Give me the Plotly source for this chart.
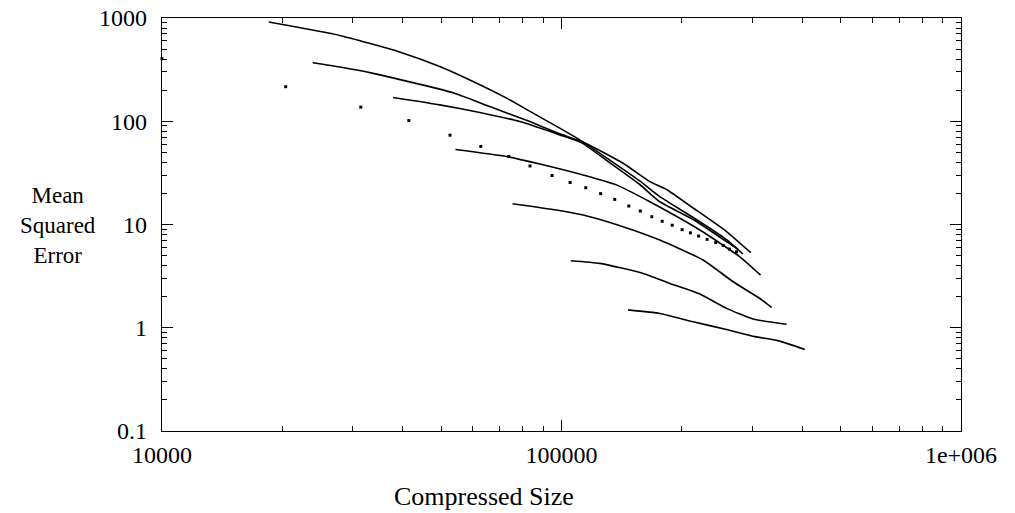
import plotly.graph_objects as go

# ---- data (Compressed Size vs Mean Squared Error) ----
a_x = [18500, 27860, 38980, 49580, 60050, 72840, 84900, 99000, 111100, 129600, 157000, 176200, 213600, 258800, 284400]
a_y = [914, 678, 474, 339, 242.7, 167.5, 119.8, 85.7, 66.0, 44.2, 26.4, 18.6, 11.7, 7.15, 5.18]

b_x = [23840, 27860, 33760, 40920, 53530, 66140, 81740, 99000, 114400, 142600, 166400, 183200, 213600, 258800, 297900]
b_y = [368.5, 334.7, 290.8, 244.8, 188.6, 138.6, 102.0, 75.5, 61.7, 39.2, 26.0, 21.85, 14.45, 8.55, 5.33]

c_x = [37870, 49580, 62440, 78640, 99000, 112400, 129600, 157000, 176200, 213600, 258800, 276300]
c_y = [169.8, 144.2, 121.5, 99.3, 73.8, 61.7, 41.8, 24.4, 16.6, 11.18, 6.84, 5.79]

d_x = [54280, 72840, 88240, 113300, 137300, 166400, 222000, 279500, 315000]
d_y = [53.2, 45.5, 38.6, 30.2, 24.2, 16.6, 8.84, 4.87, 3.24]

e_x = [75400, 97160, 117700, 142600, 176200, 226200, 268900, 313700, 335600]
e_y = [15.9, 13.8, 11.9, 9.52, 7.07, 4.53, 2.79, 1.92, 1.57]

f_x = [105500, 124700, 160100, 186700, 222000, 258800, 303000, 366000]
f_y = [4.46, 4.20, 3.36, 2.69, 2.12, 1.54, 1.21, 1.083]

g_x = [146800, 176200, 213600, 258800, 304800, 348000, 406600]
g_y = [1.49, 1.376, 1.141, 0.963, 0.820, 0.750, 0.617]

dot_x = [10000, 20400, 31450, 41480, 52600, 62800, 73800, 83400, 94700, 105100,
         115000, 125300, 135900, 147400, 157500, 168300, 178700, 189300, 200400,
         210200, 220400, 231500, 243300, 253900, 263400, 274200]
dot_y = [403, 216, 137, 101.6, 73.3, 57, 45.6, 36.9, 29.8, 25.5,
         22.7, 19.9, 17.5, 15.1, 13.5, 11.9, 10.75, 9.84, 8.91,
         8.30, 7.73, 7.18, 6.68, 6.28, 5.78, 5.44]

x_tickvals = [1e4, 1e5, 1e6]
x_ticktext = ["10000", "100000", "1e+006"]
y_tickvals = [0.1, 1, 10, 100, 1000]
y_ticktext = ["0.1", "1", "10", "100", "1000"]
x_minor = [m * 10 ** e for e in range(4, 6) for m in range(2, 10)]
y_minor = [m * 10.0 ** e for e in range(-1, 3) for m in range(2, 10)]

FONT = "Liberation Serif"

fig = go.Figure()
for xs, ys in [(a_x, a_y), (b_x, b_y), (c_x, c_y), (d_x, d_y), (e_x, e_y), (f_x, f_y), (g_x, g_y)]:
    fig.add_trace(go.Scatter(x=xs, y=ys, mode="lines",
                             line=dict(color="black", width=1.6, shape="spline", smoothing=0.5),
                             showlegend=False, hoverinfo="skip"))
fig.add_trace(go.Scatter(x=dot_x, y=dot_y, mode="markers",
                         marker=dict(symbol="square", size=3, color="black", line=dict(width=0)),
                         cliponaxis=False, showlegend=False, hoverinfo="skip"))

axis_common = dict(
    type="log", showgrid=False, zeroline=False,
    showline=True, linecolor="black", linewidth=1.3, mirror="allticks",
    ticks="inside", ticklen=11, tickwidth=1.2, tickcolor="black",
    tickmode="array", ticklabeloverflow="allow",
    tickfont=dict(family=FONT, size=24, color="black"),
    automargin=False,
)

# the page body adds an 8px offset; the figure is sized so the plot area lands
# at x 162..961, y 18..431 of the 1015x513 window
fig.update_layout(
    width=1007, height=505,
    margin=dict(l=154, r=54, t=10, b=82),
    paper_bgcolor="white", plot_bgcolor="white",
    font=dict(family=FONT, color="black"),
    xaxis=dict(axis_common, range=[4, 6], tickvals=x_tickvals, ticktext=x_ticktext,
               ticklabelstandoff=2,
               minor=dict(tickmode="array", tickvals=x_minor, ticks="inside", ticklen=5,
                          tickwidth=1, tickcolor="black", showgrid=False)),
    yaxis=dict(axis_common, range=[-1, 3], tickvals=y_tickvals, ticktext=y_ticktext,
               ticklabelstandoff=9,
               minor=dict(tickmode="array", tickvals=y_minor, ticks="inside", ticklen=5,
                          tickwidth=1, tickcolor="black", showgrid=False)),
    annotations=[
        dict(text="Compressed Size", xref="paper", yref="paper", x=0.4028, y=-0.158,
             xanchor="center", yanchor="middle", showarrow=False,
             font=dict(family=FONT, size=26, color="black"), borderpad=0),
        dict(text="Mean<br>Squared<br>Error", xref="paper", yref="paper", x=-0.1306, y=0.497,
             xanchor="center", yanchor="middle", align="center", showarrow=False,
             font=dict(family=FONT, size=23, color="black"), borderpad=0),
    ],
)

fig.write_html("out.html")
